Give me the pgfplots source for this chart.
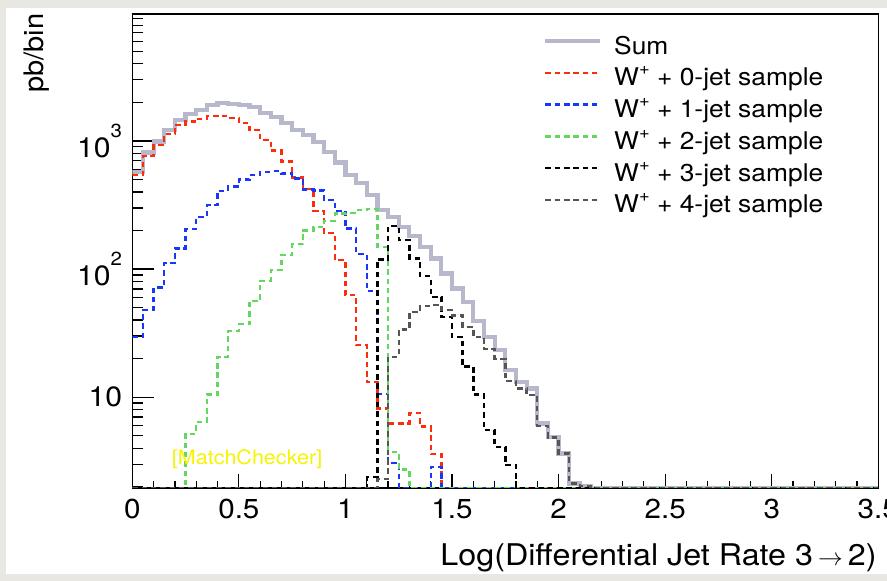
\documentclass[border=0pt]{standalone}
\usepackage{pgfplots}
\pgfplotsset{compat=1.18}
\usepackage{pgfplotstable}
\usepackage{fontspec}
\setmainfont{TeX Gyre Heros}[FakeStretch=1.08]

\definecolor{sumcol}{RGB}{184,184,204}
\definecolor{hred}{RGB}{252,45,10}
\definecolor{hblue}{RGB}{25,55,250}
\definecolor{hgreen}{RGB}{100,215,95}
\definecolor{hgray}{RGB}{85,85,85}
\definecolor{wall}{RGB}{233,231,226}
\definecolor{mcyellow}{RGB}{245,245,0}

\newcommand\ysup[1]{\raisebox{0.72em}{\fontsize{19}{19}\selectfont #1}}
\newcommand\Wp{W\raisebox{0.45em}{\fontsize{17}{17}\selectfont +}}

% bin left edge, content (pb/bin); empty bins written as 1.96 (bottom of the log axis)
\pgfplotstableread{
x y
0.00 575
0.05 813
0.10 991
0.15 1219
0.20 1459
0.25 1626
0.30 1746
0.35 1901
0.40 1970
0.45 1945
0.50 1910
0.55 1833
0.60 1644
0.65 1548
0.70 1375
0.75 1219
0.80 1114
0.85 987
0.90 825
0.95 679
1.00 542
1.05 470
1.10 378
1.15 289
1.20 255
1.25 214
1.30 181
1.35 149
1.40 121
1.45 92.5
1.50 70.6
1.55 55.6
1.60 39.5
1.65 29.3
1.70 23.3
1.75 16.2
1.80 13.2
1.85 11.7
1.90 6.23
1.95 4.90
2.00 3.63
2.05 2.12
2.10 2.02
2.15 1.96
3.50 1.96
}\sumtab

\pgfplotstableread{
x y
0.00 542
0.05 764
0.10 930
0.15 1134
0.20 1334
0.25 1415
0.30 1491
0.35 1568
0.40 1560
0.45 1518
0.50 1375
0.55 1219
0.60 1018
0.65 840
0.70 690
0.75 520
0.80 423
0.85 285
0.90 191
0.95 118
1.00 62.6
1.05 25.5
1.10 13.1
1.15 8.16
1.20 6.23
1.25 6.23
1.30 7.50
1.35 5.90
1.40 3.59
1.45 1.96
3.50 1.96
}\jetzero

\pgfplotstableread{
x y
0.00 29.6
0.05 47.8
0.10 72.0
0.15 111
0.20 145
0.25 205
0.30 256
0.35 316
0.40 407
0.45 440
0.50 502
0.55 542
0.60 575
0.65 581
0.70 556
0.75 511
0.80 417
0.85 411
0.90 346
0.95 285
1.00 207
1.05 131
1.10 67.3
1.15 10.6
1.20 3.08
1.25 1.96
1.40 2.85
1.45 1.96
3.50 1.96
}\jetone

\pgfplotstableread{
x y
0.00 1.96
0.25 5.17
0.30 6.41
0.35 10.5
0.40 20.7
0.45 33.0
0.50 37.2
0.55 56.2
0.60 81.1
0.65 98.8
0.70 129
0.75 157
0.80 200
0.85 213
0.90 238
0.95 272
1.00 275
1.05 289
1.10 295
1.15 149
1.20 3.74
1.25 2.72
1.30 1.96
3.50 1.96
}\jettwo

\pgfplotstableread{
x y
0.00 1.96
1.10 2.37
1.15 119
1.20 217
1.25 169
1.30 121
1.35 88.2
1.40 60.8
1.45 42.4
1.50 29.6
1.55 17.3
1.60 10.5
1.65 5.52
1.70 4.09
1.75 2.94
1.80 1.96
3.50 1.96
}\jetthree

\pgfplotstableread{
x y
0.00 1.96
1.15 2.30
1.20 20.7
1.25 33.8
1.30 46.1
1.35 51.4
1.40 52.3
1.45 47.8
1.50 43.4
1.55 35.4
1.60 29.6
1.65 23.7
1.70 19.9
1.75 13.4
1.80 11.7
1.85 10.4
1.90 5.93
1.95 4.84
2.00 3.63
2.05 2.12
2.10 2.02
2.15 1.96
3.50 1.96
}\jetfour

\begin{document}
\begin{tikzpicture}
\useasboundingbox (0bp,0bp) rectangle (887bp,581bp);
\fill[wall] (0bp,0bp) rectangle (887bp,581bp);
\fill[white] (6bp,7bp) rectangle (887bp,573bp);

\begin{axis}[
  at={(132.3bp,93bp)}, anchor=south west,
  scale only axis, width=746bp, height=474bp,
  xmin=0, xmax=3.5,
  ymode=log, ymin=1.955, ymax=9800,
  axis line style={black, line width=1.4bp},
  tick align=inside, xtick pos=left, ytick pos=left,
  xtick={0,0.5,1,1.5,2,2.5,3,3.5},
  xticklabels={0,0.5,1,1.5,2,2.5,3,3.5},
  minor x tick num=4,
  ytick={10,100,1000},
  yticklabels={10,10\ysup{2},10\ysup{3}},
  minor ytick={2,3,4,5,6,7,8,9,20,30,40,50,60,70,80,90,200,300,400,500,600,700,800,900,2000,3000,4000,5000,6000,7000,8000,9000},
  xtick style={/pgfplots/major tick length=14bp, /pgfplots/minor tick length=7bp, black, line width=1.2bp},
  ytick style={/pgfplots/major tick length=22bp, /pgfplots/minor tick length=11bp, black, line width=1.2bp},
  xticklabel style={font=\fontsize{27.5}{27.5}\selectfont, inner sep=0pt, anchor=north, yshift=-11bp},
  yticklabel style={font=\fontsize{28}{28}\selectfont, inner sep=0pt, anchor=east, xshift=-10bp},
  legend style={at={(axis description cs:0.551,0.953)}, anchor=north west,
    draw=none, fill=none, inner sep=0pt, outer sep=0pt,
    font=\fontsize{24.5}{24.5}\selectfont, row sep=7.7bp,
    nodes={inner sep=0pt, text height=18bp, text depth=6bp},
    cells={anchor=base west},
    /tikz/every odd column/.append style={column sep=11.7bp}},
  legend image code/.code={\draw[#1] (0bp,13bp) -- (55bp,13bp);},
  hist/.style={const plot, line width=2.4bp, dash pattern=on 5.5bp off 3.8bp},
]
\addplot[const plot, sumcol, line width=4.2bp] table[x=x, y=y] {\sumtab};
\addlegendentry{Sum}
\addplot[hist, hred] table[x=x, y=y] {\jetzero};
\addlegendentry{\Wp{} + 0-jet sample}
\addplot[hist, hblue] table[x=x, y=y] {\jetone};
\addlegendentry{\Wp{} + 1-jet sample}
\addplot[hist, hgreen] table[x=x, y=y] {\jettwo};
\addlegendentry{\Wp{} + 2-jet sample}
\addplot[hist, black] table[x=x, y=y] {\jetthree};
\addlegendentry{\Wp{} + 3-jet sample}
\addplot[hist, hgray] table[x=x, y=y] {\jetfour};
\addlegendentry{\Wp{} + 4-jet sample}
\end{axis}

\node[anchor=base west, text=mcyellow, inner sep=0pt, font=\fontsize{20}{20}\selectfont] at (171.7bp,116bp) {[MatchChecker]};
\node[anchor=base east, inner sep=0pt, font=\fontsize{30}{30}\selectfont] at (876.7bp,16bp) {Log(Differential Jet Rate 3\,$\rightarrow$\,2)};
\node[anchor=base east, rotate=90, inner sep=0pt, font=\fontsize{27}{27}\selectfont] at (43bp,567.7bp) {pb/bin};
\end{tikzpicture}
\end{document}
